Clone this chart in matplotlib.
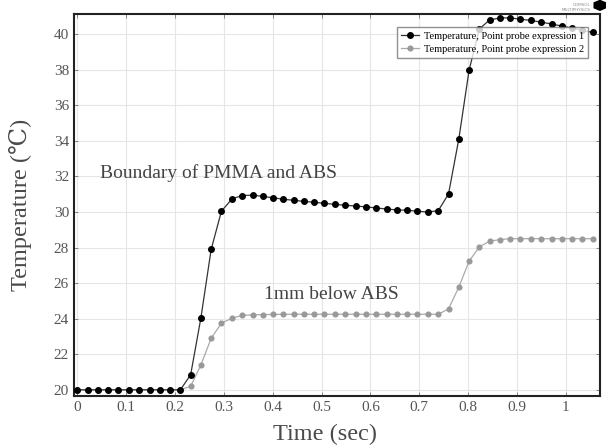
import numpy as np
import matplotlib.pyplot as plt
from matplotlib.patches import RegularPolygon

# time samples (sec)
time = [0.0, 0.021, 0.042, 0.063, 0.084, 0.106, 0.127, 0.148, 0.169, 0.190,
        0.211, 0.232, 0.253, 0.274, 0.295, 0.317, 0.338, 0.359, 0.380, 0.401,
        0.422, 0.443, 0.464, 0.485, 0.506, 0.528, 0.549, 0.570, 0.591, 0.612,
        0.633, 0.654, 0.675, 0.696, 0.717, 0.739, 0.760, 0.781, 0.802, 0.823,
        0.844, 0.865, 0.886, 0.907, 0.928, 0.950, 0.971, 0.992, 1.013, 1.034,
        1.055]

probe1 = [20.0, 20.0, 20.0, 20.0, 20.0, 20.0, 20.0, 20.0, 20.0, 20.0,
          20.0, 20.85, 24.05, 27.9, 30.05, 30.75, 30.93, 30.95, 30.88, 30.8,
          30.72, 30.66, 30.6, 30.55, 30.49, 30.43, 30.38, 30.34, 30.29, 30.23,
          30.17, 30.12, 30.1, 30.05, 30.0, 30.08, 31.02, 34.1, 37.97, 40.3,
          40.8, 40.92, 40.92, 40.85, 40.78, 40.68, 40.58, 40.46, 40.35, 40.22,
          40.1]

probe2 = [20.0, 20.0, 20.0, 20.0, 20.0, 20.0, 20.0, 20.0, 20.0, 20.0,
          20.0, 20.2, 21.4, 22.9, 23.75, 24.03, 24.19, 24.22, 24.23, 24.24,
          24.25, 24.25, 24.25, 24.25, 24.25, 24.25, 24.25, 24.25, 24.25, 24.25,
          24.25, 24.25, 24.25, 24.25, 24.25, 24.25, 24.55, 25.77, 27.23, 28.04,
          28.36, 28.45, 28.5, 28.5, 28.5, 28.5, 28.5, 28.5, 28.5, 28.5,
          28.5]

xticks = [0, 0.1, 0.2, 0.3, 0.4, 0.5, 0.6, 0.7, 0.8, 0.9, 1]
xlabels = ['0', '0.1', '0.2', '0.3', '0.4', '0.5', '0.6', '0.7', '0.8', '0.9', '1']
yticks = list(range(20, 41, 2))

serif = ['Liberation Serif', 'DejaVu Serif']
plt.rcParams['font.family'] = serif

fig = plt.figure(figsize=(6.06, 4.46), dpi=100)
ax = fig.add_axes([0.122, 0.112, 0.868, 0.857])

ax.plot(time, probe1, color='#333333', lw=0.9, marker='o', ms=4.0,
        mfc='black', mec='black', label='Temperature, Point probe expression 1', zorder=3)
ax.plot(time, probe2, color='#aaaaaa', lw=0.9, marker='o', ms=3.4,
        mfc='#999999', mec='#999999', label='Temperature, Point probe expression 2', zorder=2)

ax.set_xlim(-0.007, 1.07)
ax.set_ylim(19.65, 41.15)
ax.set_xticks(xticks)
ax.set_xticklabels(xlabels)
ax.set_yticks(yticks)
ax.tick_params(direction='in', top=True, right=True, labelsize=11,
               labelcolor='#555555', length=3, width=0.6, color='#777777')
ax.grid(True, color='#e6e6e6', lw=0.8)
for s in ax.spines.values():
    s.set_linewidth(1.5)
    s.set_color('#222222')

ax.set_xlabel('Time (sec)', fontsize=17.5, color='#4a4a4a')
ax.xaxis.set_label_coords(0.477, -0.072)
ax.set_ylabel('Temperature (℃)', fontsize=17.5, color='#4a4a4a', labelpad=16)

ax.text(0.29, 31.9, 'Boundary of PMMA and ABS', fontsize=14, color='#444444', ha='center')
ax.text(0.52, 25.1, '1mm below ABS', fontsize=14, color='#444444', ha='center')

leg = ax.legend(loc='upper right', bbox_to_anchor=(0.987, 0.978), fontsize=7.5,
                frameon=True, fancybox=False, borderpad=0.4, labelspacing=0.35,
                handlelength=1.8, handletextpad=0.4)
leg.get_frame().set_edgecolor('#777777')
leg.get_frame().set_linewidth(1.0)

# small software logo in the top right corner
fig.text(0.975, 0.993, 'COMSOL\nMULTIPHYSICS', fontsize=3, color='#888888', ha='right', va='top',
         family='DejaVu Sans')
fig.add_artist(RegularPolygon((0.99, 0.988), 6, radius=0.011, color='black',
                              transform=fig.transFigure))

fig.savefig('out.png', dpi=100)
